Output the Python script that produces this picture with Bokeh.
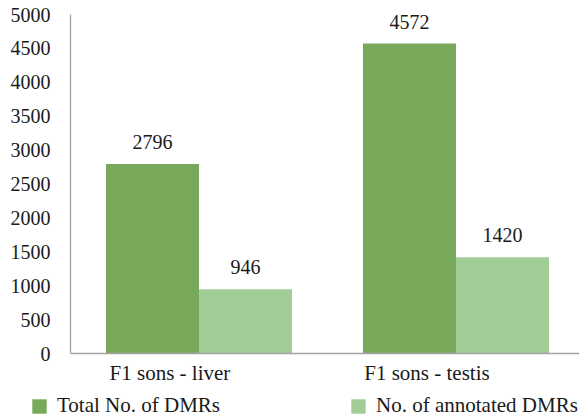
from bokeh.plotting import figure
from bokeh.models import ColumnDataSource, FixedTicker, Legend, LegendItem, Range1d
from bokeh.core.properties import value
from bokeh.embed import file_html
from bokeh.resources import INLINE

categories = ["F1 sons - liver", "F1 sons - testis"]
series_names = ["Total No. of DMRs", "No. of annotated DMRs"]
total_dmrs = [2796, 4572]
annotated_dmrs = [946, 1420]
y_ticks = [0, 500, 1000, 1500, 2000, 2500, 3000, 3500, 4000, 4500, 5000]

colors = ["#78a95a", "#a3cd96"]
font = "Liberation Serif"
bar_w = 0.362

W, H = 579, 416
left_px, top_px, plot_h = 70, 14, 339
px_per_x = 257.0
units_per_px = 5000.0 / plot_h

centers = [i + 0.5 for i in range(len(categories))]
x_total = [c - bar_w / 2 for c in centers]
x_annot = [c + bar_w / 2 for c in centers]

src_t = ColumnDataSource(dict(x=x_total, top=total_dmrs, lbl=[str(v) for v in total_dmrs]))
src_a = ColumnDataSource(dict(x=x_annot, top=annotated_dmrs, lbl=[str(v) for v in annotated_dmrs]))

x_range = Range1d(-left_px / px_per_x, (W - left_px) / px_per_x)
y_range = Range1d(-(H - top_px - plot_h) * units_per_px, 5000 + top_px * units_per_px)

p = figure(width=W, height=H, output_backend="svg", toolbar_location=None,
           x_range=x_range, y_range=y_range,
           min_border_left=0, min_border_right=0, min_border_top=0, min_border_bottom=0)
p.outline_line_color = None
p.grid.grid_line_color = None
p.background_fill_color = "white"

r1 = p.vbar(x="x", top="top", width=bar_w, source=src_t, fill_color=colors[0], line_color=None)
r2 = p.vbar(x="x", top="top", width=bar_w, source=src_a, fill_color=colors[1], line_color=None)

for s in (src_t, src_a):
    p.text(x="x", y="top", text="lbl", source=s, text_align="center", text_baseline="alphabetic",
           y_offset=-22, text_font=value(font), text_font_size="20px", text_color="#1a1a1a")

label_shift = 0.113
tick_pos = [c - label_shift for c in centers]
p.xaxis.ticker = FixedTicker(ticks=tick_pos)
p.xaxis.major_label_overrides = {t: c for t, c in zip(tick_pos, categories)}
p.yaxis.ticker = FixedTicker(ticks=y_ticks)
p.xaxis.fixed_location = 0
p.yaxis.fixed_location = 0
p.xaxis.bounds = (0, x_range.end)
p.yaxis.bounds = (0, 5000)

for ax in (p.xaxis, p.yaxis):
    ax.axis_line_color = "#a3a3a3"
    ax.axis_line_width = 1.3
    ax.major_tick_line_color = None
    ax.minor_tick_line_color = None
    ax.major_label_text_font = font
    ax.major_label_text_color = "#1a1a1a"
p.yaxis.major_label_text_font_size = "20px"
p.xaxis.major_label_text_font_size = "21px"
p.xaxis.major_label_standoff = 0
p.xaxis.major_tick_out = 7
p.yaxis.major_label_standoff = 14

legend = Legend(items=[LegendItem(label=series_names[0], renderers=[r1]),
                       LegendItem(label=series_names[1], renderers=[r2])],
                orientation="horizontal", location=(30, -2))
legend.glyph_width = 18
legend.glyph_height = 18
legend.label_standoff = 9
legend.spacing = 129
legend.padding = 0
legend.margin = 0
legend.border_line_color = None
legend.background_fill_alpha = 0
legend.label_text_font = font
legend.label_text_font_size = "21px"
legend.label_text_color = "#1a1a1a"
legend.label_height = 18
p.add_layout(legend, "center")

open("out.html", "w").write(file_html(p, INLINE))
